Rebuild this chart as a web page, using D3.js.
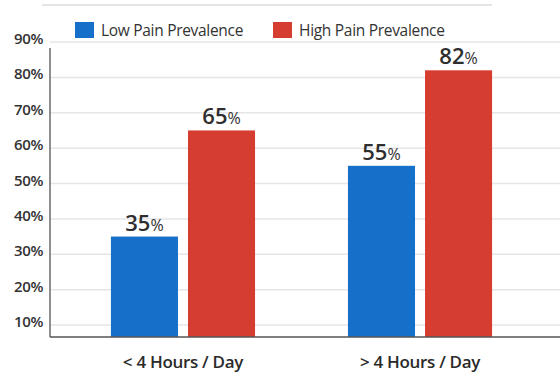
<!DOCTYPE html>
<html>
<head>
<meta charset="utf-8">
<script src="https://cdn.jsdelivr.net/npm/d3@7/dist/d3.min.js"></script>
<style>
  html, body { margin: 0; padding: 0; background: #ffffff; }
  svg { display: block; }
  text { font-family: "Open Sans", "Noto Sans", sans-serif; }
</style>
</head>
<body>
<svg id="chart" width="560" height="372"></svg>
<script>
// Share of people reporting pain, by daily usage time
const categories = ["< 4 Hours / Day", "> 4 Hours / Day"];
const seriesNames = ["Low Pain Prevalence", "High Pain Prevalence"];
const lowPain = [35, 55];
const highPain = [65, 82];
const yTicks = [10, 20, 30, 40, 50, 60, 70, 80, 90];
const colors = ["#1670c9", "#d63d31"];

const svg = d3.select("#chart");
const left = 50, right = 560, bottom = 337;

const rows = categories.map((c, i) => ({ cat: c, values: [lowPain[i], highPain[i]] }));

const y = d3.scaleLinear().domain([10, 90]).range([325, 42]);
const x0 = d3.scaleBand().domain(categories).range([50, 553])
  .paddingInner(0.392).paddingOuter(0.257);
const x1 = d3.scaleBand().domain(d3.range(seriesNames.length))
  .range([0, x0.bandwidth()]).paddingInner(0.13);

// thin rule across the top
svg.append("line")
  .attr("x1", 42).attr("x2", 492).attr("y1", 5).attr("y2", 5)
  .attr("stroke", "#e4e4e4").attr("stroke-width", 2);

// gridlines
svg.append("g").selectAll("line").data(yTicks).join("line")
  .attr("x1", left).attr("x2", right)
  .attr("y1", d => y(d)).attr("y2", d => y(d))
  .attr("stroke", "#e6e6e6").attr("stroke-width", 1.5);

// y axis labels
const yAxis = d3.axisLeft(y).tickValues(yTicks).tickFormat(d => d + "%").tickSize(0).tickPadding(7);
const gy = svg.append("g").attr("transform", `translate(${left},0)`).call(yAxis);
gy.select(".domain").remove();
gy.selectAll("text")
  .attr("font-size", 15).attr("font-weight", 600).attr("fill", "#333")
  .attr("letter-spacing", -0.4)
  .attr("dy", "0.1em");

// bars
const groups = svg.append("g").selectAll("g").data(rows).join("g")
  .attr("transform", d => `translate(${x0(d.cat)},0)`);

groups.selectAll("rect").data(d => d.values).join("rect")
  .attr("x", (d, i) => x1(i))
  .attr("width", x1.bandwidth())
  .attr("y", d => y(d))
  .attr("height", d => bottom - y(d))
  .attr("fill", (d, i) => colors[i]);

// value labels
const vl = groups.selectAll("text.val").data(d => d.values).join("text")
  .attr("class", "val")
  .attr("x", (d, i) => x1(i) + x1.bandwidth() / 2)
  .attr("y", d => y(d) - 6)
  .attr("text-anchor", "middle")
  .attr("fill", "#2e2e2e");
vl.append("tspan").attr("font-size", 22).attr("font-weight", 600).text(d => d);
vl.append("tspan").attr("font-size", 16).attr("font-weight", 500).text("%");

// axes lines
svg.append("line").attr("x1", left).attr("x2", left).attr("y1", 48).attr("y2", bottom)
  .attr("stroke", "#444").attr("stroke-width", 1.2);
svg.append("line").attr("x1", left).attr("x2", right).attr("y1", bottom).attr("y2", bottom)
  .attr("stroke", "#555").attr("stroke-width", 1.5);

// category labels
const xAxis = d3.axisBottom(x0).tickSize(0).tickPadding(0);
const gx = svg.append("g").attr("transform", `translate(0,${bottom})`).call(xAxis);
gx.select(".domain").remove();
gx.selectAll("text")
  .attr("y", 31).attr("dy", 0)
  .attr("font-size", 17).attr("font-weight", 600).attr("fill", "#2a2a2a")
  .attr("letter-spacing", -0.3);

// legend
const legendX = [75, 273];
const lg = svg.append("g").selectAll("g").data(seriesNames).join("g")
  .attr("transform", (d, i) => `translate(${legendX[i]},22)`);
lg.append("rect").attr("width", 19).attr("height", 16).attr("fill", (d, i) => colors[i]);
lg.append("text").attr("x", 26).attr("y", 14).attr("font-size", 15.5)
  .attr("letter-spacing", -0.3)
  .attr("fill", "#333").text(d => d);
</script>
</body>
</html>
